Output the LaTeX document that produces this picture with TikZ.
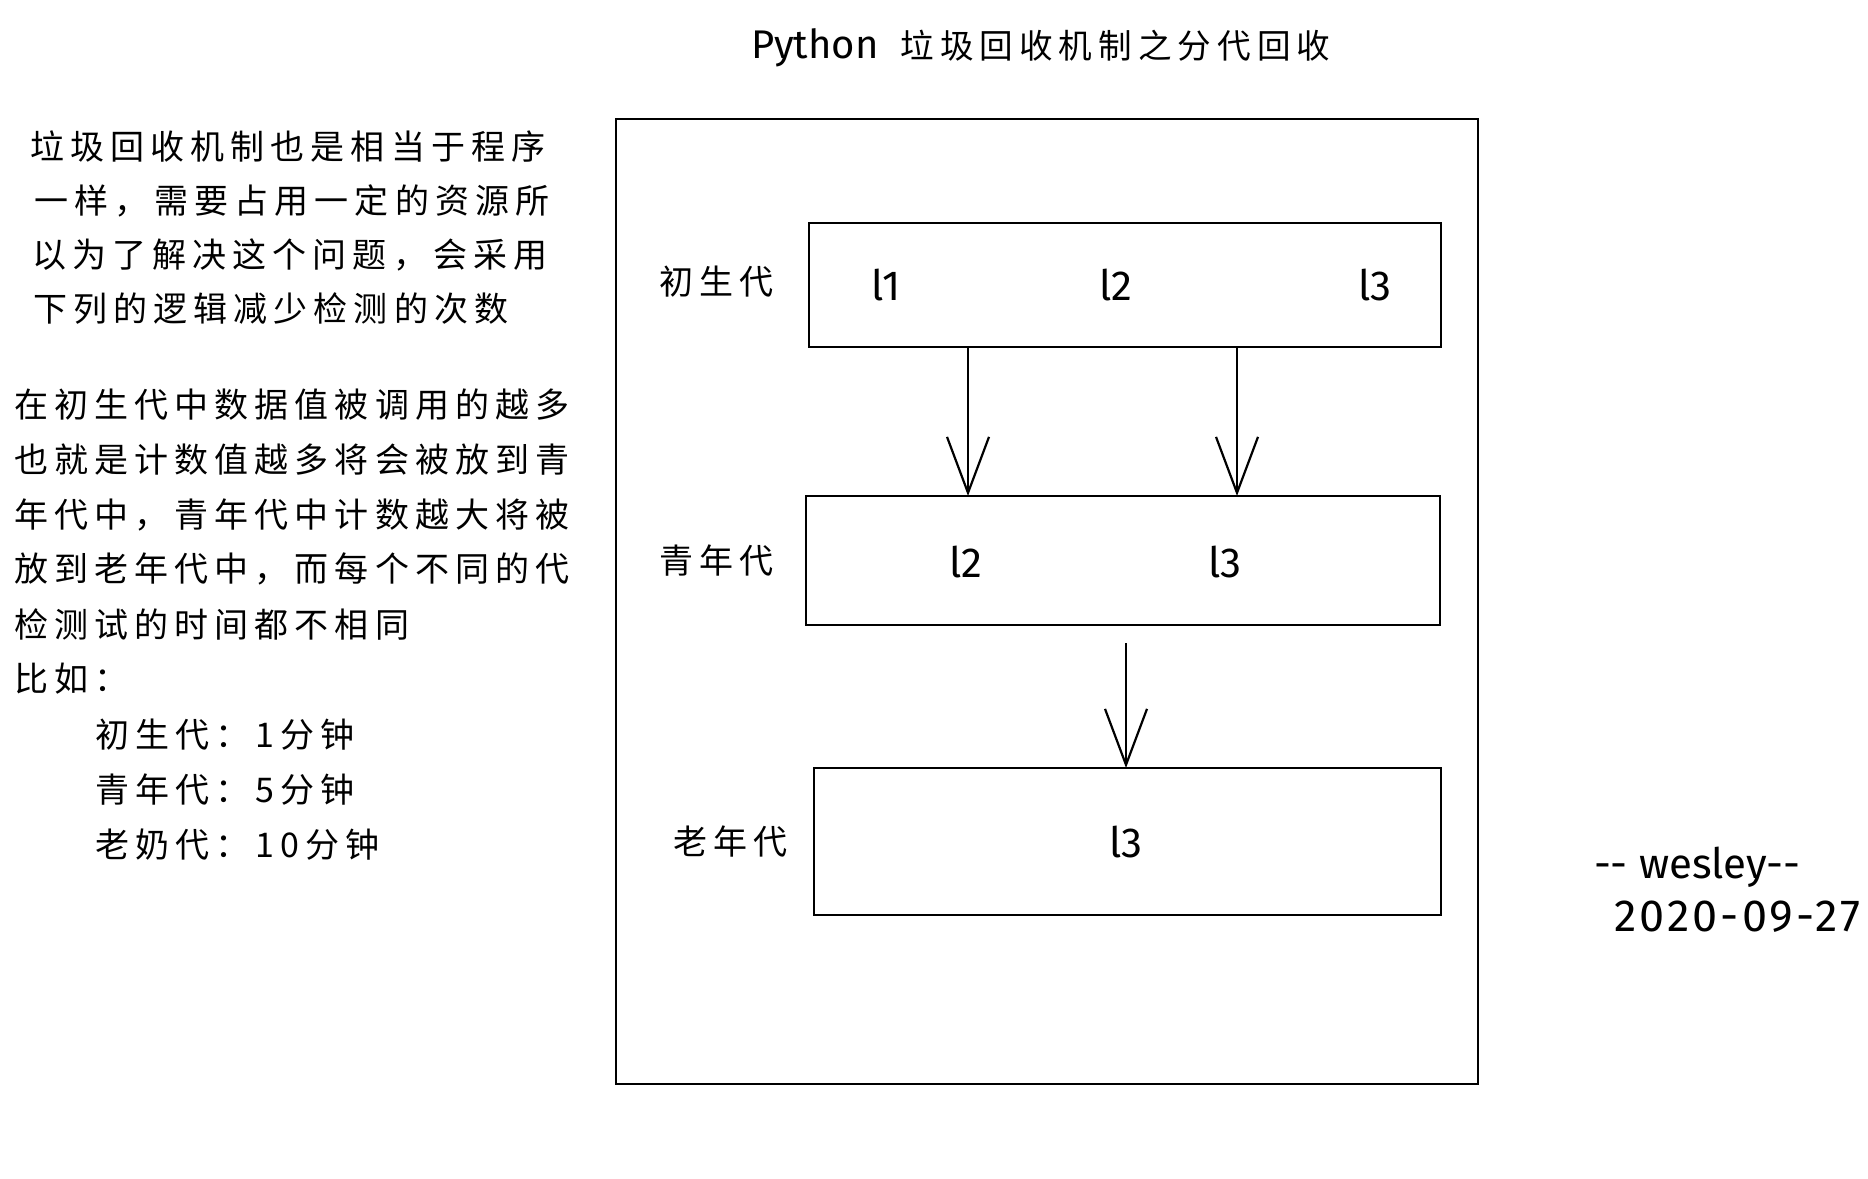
\documentclass[tikz,border=0pt]{standalone}
\usepackage{fontspec}
\setmainfont{Noto Sans CJK SC}[LetterSpace=18]
\newfontfamily\latinhand{Fira Sans}
\newfontfamily\datehand{Fira Sans}[LetterSpace=7]
\usetikzlibrary{arrows.meta}
\begin{document}
\begin{tikzpicture}[x=1pt,y=-1pt,
  every node/.style={inner sep=0pt,outer sep=0pt},
  txt/.style={anchor=west,font=\fontsize{34}{40}\selectfont},
  genlabel/.style={anchor=east,font=\fontsize{34}{40}\selectfont},
  genbox/.style={draw,line width=2.6pt},
  item/.style={font=\latinhand\fontsize{42}{48}\selectfont},
  sig/.style={anchor=west,font=\latinhand\fontsize{42}{48}\selectfont},
  flow/.style={line width=2.2pt,-{Straight Barb[length=56pt,width=42pt,line width=2.2pt]}}
]
\useasboundingbox (0,0) rectangle (1868,1178);
\fill[white] (0,0) rectangle (1868,1178);

% title
\node[anchor=west,font=\fontsize{33.6}{42}\selectfont] (title) at (751,48) {{\latinhand\fontsize{40}{46}\selectfont Python}\hspace{22pt}垃圾回收机制之分代回收};

% left text block 1
\node[txt] (p1a) at (30,147) {垃圾回收机制也是相当于程序};
\node[txt] (p1b) at (34,201) {一样，需要占用一定的资源所};
\node[txt] (p1c) at (32,255) {以为了解决这个问题，会采用};
\node[txt] (p1d) at (33,309) {下列的逻辑减少检测的次数};

% left text block 2
\node[txt] (p2a) at (14,405) {在初生代中数据值被调用的越多};
\node[txt] (p2b) at (14,460) {也就是计数值越多将会被放到青};
\node[txt] (p2c) at (14,515) {年代中，青年代中计数越大将被};
\node[txt] (p2d) at (14,569) {放到老年代中，而每个不同的代};
\node[txt] (p2e) at (14,624) {检测试的时间都不相同};
\node[txt] (p2f) at (14,679) {比如：};
\node[txt] (t1) at (95,735) {初生代：1分钟};
\node[txt] (t2) at (95,790) {青年代：5分钟};
\node[txt] (t3) at (95,845) {老奶代：10分钟};

% frame
\node[genbox,line width=2.8pt,minimum width=862pt,minimum height=965pt] (frame) at (1047,601.5) {};

% generation boxes
\node[genbox,minimum width=632pt,minimum height=124pt] (b1) at (1125,285) {};
\node[genbox,minimum width=634pt,minimum height=129pt] (b2) at (1123,560.5) {};
\node[genbox,minimum width=627pt,minimum height=147pt] (b3) at (1127.5,841.5) {};

\node[genlabel] (g1) at (774,282) {初生代};
\node[genlabel] (g2) at (774,561) {青年代};
\node[genlabel] (g3) at (788,842) {老年代};

% items
\node[item] (a1) at (886,285) {l1};
\node[item] (a2) at (1116,285) {l2};
\node[item] (a3) at (1375,285) {l3};
\node[item] (c2) at (966,562) {l2};
\node[item] (c3) at (1225,562) {l3};
\node[item] (d3) at (1126,842) {l3};

% arrows
\coordinate (x1) at (968,0);
\coordinate (x2) at (1237,0);
\coordinate (x3) at (1126,0);
\draw[flow] (b1.south -| x1) -- (b2.north -| x1);
\draw[flow] (b1.south -| x2) -- (b2.north -| x2);
\draw[flow] ([yshift=-18pt]b2.south -| x3) -- (b3.north -| x3);

% signature
\node[sig] (s1) at (1594,867) {-- wesley--};
\node[anchor=west,font=\datehand\fontsize{45}{50}\selectfont] (s2) at (1614,917) {2020-09-27};
\end{tikzpicture}
\end{document}
